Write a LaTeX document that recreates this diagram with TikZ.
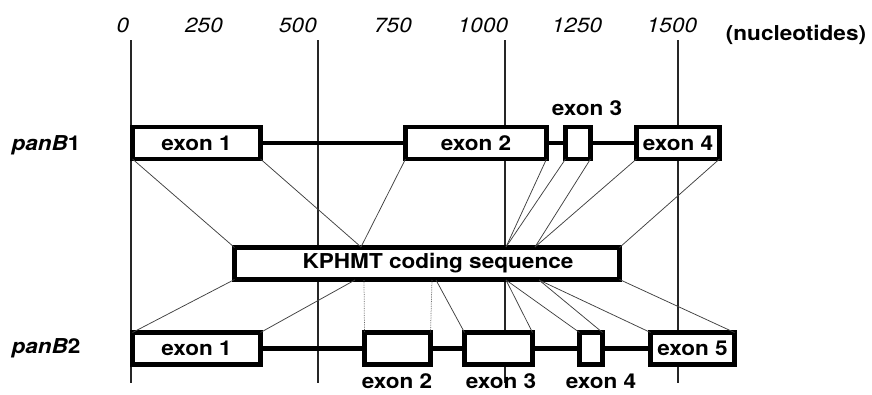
\documentclass[tikz,border=0pt]{standalone}
\usepackage{fontspec}
\newfontfamily\helv{TeX Gyre Heros}[FakeStretch=1.1]
\newcommand\exonfont{\helv\bfseries\fontsize{20.5}{22}\selectfont}
\newcommand\tickfont{\helv\itshape\fontsize{20.5}{22}\selectfont}
\newcommand\genefont{\helv\bfseries\fontsize{20.5}{22}\selectfont}
\tikzset{
 gridline/.style={line width=1.2pt, black!85},
 conn/.style={line width=0.75pt, black!75},
 dotconn/.style={line width=0.75pt, black!60, densely dotted},
 intron/.style={line width=4.2pt, black},
 exonbox/.style={draw=black, line width=4.2pt, fill=white, outer sep=0pt, inner sep=0pt, font=\exonfont, minimum height=32pt},
 ticklbl/.style={font=\tickfont, inner sep=0pt},
 lbl/.style={font=\exonfont, inner sep=0pt}
}
\begin{document}
\begin{tikzpicture}[x=1pt,y=-1pt]
\useasboundingbox (0,0) rectangle (872,394);
% tick labels
\node[ticklbl] (t0) at (123,25) {0};
\node[ticklbl] (t250) at (204,25) {250};
\node[ticklbl] (t500) at (298,25) {500};
\node[ticklbl] (t750) at (393,25) {750};
\node[ticklbl] (t1000) at (483,25) {1000};
\node[ticklbl] (t1250) at (577,25) {1250};
\node[ticklbl] (t1500) at (672,25) {1500};
\node[lbl] (nuc) at (796,35) {(nucleotides)};
% grid lines
\draw[gridline] (131,40) -- (131,383);
\draw[gridline] (318,40) -- (318,383);
\draw[gridline] (505,40) -- (505,383);
\draw[gridline] (678,40) -- (678,383);
% gene labels
\node[font=\genefont, inner sep=0pt] (p1) at (46,145) {\itshape panB\upshape 1};
\node[font=\genefont, inner sep=0pt] (p2) at (46,348) {\itshape panB\upshape 2};
% boxes
\node[exonbox, minimum width=128pt] (a1) at (196.5,143) {exon 1};
\node[exonbox, minimum width=141pt] (a2) at (476,143) {exon 2};
\node[exonbox, minimum width=25pt] (a3) at (578,143) {};
\node[exonbox, minimum width=83pt] (a4) at (678,143) {exon 4};
\node[exonbox, minimum width=385pt] (k) at (427,263.5) {};
\node[exonbox, minimum width=128pt] (b1) at (196.5,348.5) {exon 1};
\node[exonbox, minimum width=66pt] (b2) at (397.5,348.5) {};
\node[exonbox, minimum width=68pt] (b3) at (498.5,348.5) {};
\node[exonbox, minimum width=23pt] (b4) at (591,348.5) {};
\node[exonbox, minimum width=84pt] (b5) at (692.5,348.5) {exon 5};
% coordinates on KPHMT
\coordinate (kt1) at (361,247);
\coordinate (kt2) at (506,247);
\coordinate (kt3) at (535,247);
\coordinate (kb1) at (355,280);
\coordinate (kb2) at (364,280);
\coordinate (kb3) at (432,280);
\coordinate (kb4) at (436,280);
\coordinate (kb5) at (506,280);
\coordinate (kb6) at (539,280);
% connectors
\draw[conn] (a1.south west) -- (k.north west);
\draw[conn] (a1.south east) -- (kt1);
\draw[conn] (a2.south west) -- (kt1);
\draw[conn] (a2.south east) -- (kt2);
\draw[conn] (a3.south west) -- (kt2);
\draw[conn] (a3.south east) -- (kt3);
\draw[conn] (a4.south west) -- (kt3);
\draw[conn] (a4.south east) -- (k.north east);
\draw[conn] (k.south west) -- (b1.north west);
\draw[conn] (kb1) -- (b1.north east);
\draw[dotconn] (kb2) -- (b2.north west);
\draw[dotconn] (kb3) -- (b2.north east);
\draw[conn] (kb4) -- (b3.north west);
\draw[conn] (kb5) -- (b3.north east);
\draw[conn] (kb5) -- (b4.north west);
\draw[conn] (kb6) -- (b4.north east);
\draw[conn] (kb6) -- (b5.north west);
\draw[conn] (k.south east) -- (b5.north east);
% introns
\draw[intron] (a1.east) -- (a2.west);
\draw[intron] (a2.east) -- (a3.west);
\draw[intron] (a3.east) -- (a4.west);
\draw[intron] (b1.east) -- (b2.west);
\draw[intron] (b2.east) -- (b3.west);
\draw[intron] (b3.east) -- (b4.west);
\draw[intron] (b4.east) -- (b5.west);
% text labels
\node[lbl] (kt) at (438,263.5) {KPHMT coding sequence};
\node[lbl] (l3a) at (587,108) {exon 3};
\node[lbl] (l2b) at (397,381) {exon 2};
\node[lbl] (l3b) at (501,381) {exon 3};
\node[lbl] (l4b) at (601,381) {exon 4};
\end{tikzpicture}
\end{document}
